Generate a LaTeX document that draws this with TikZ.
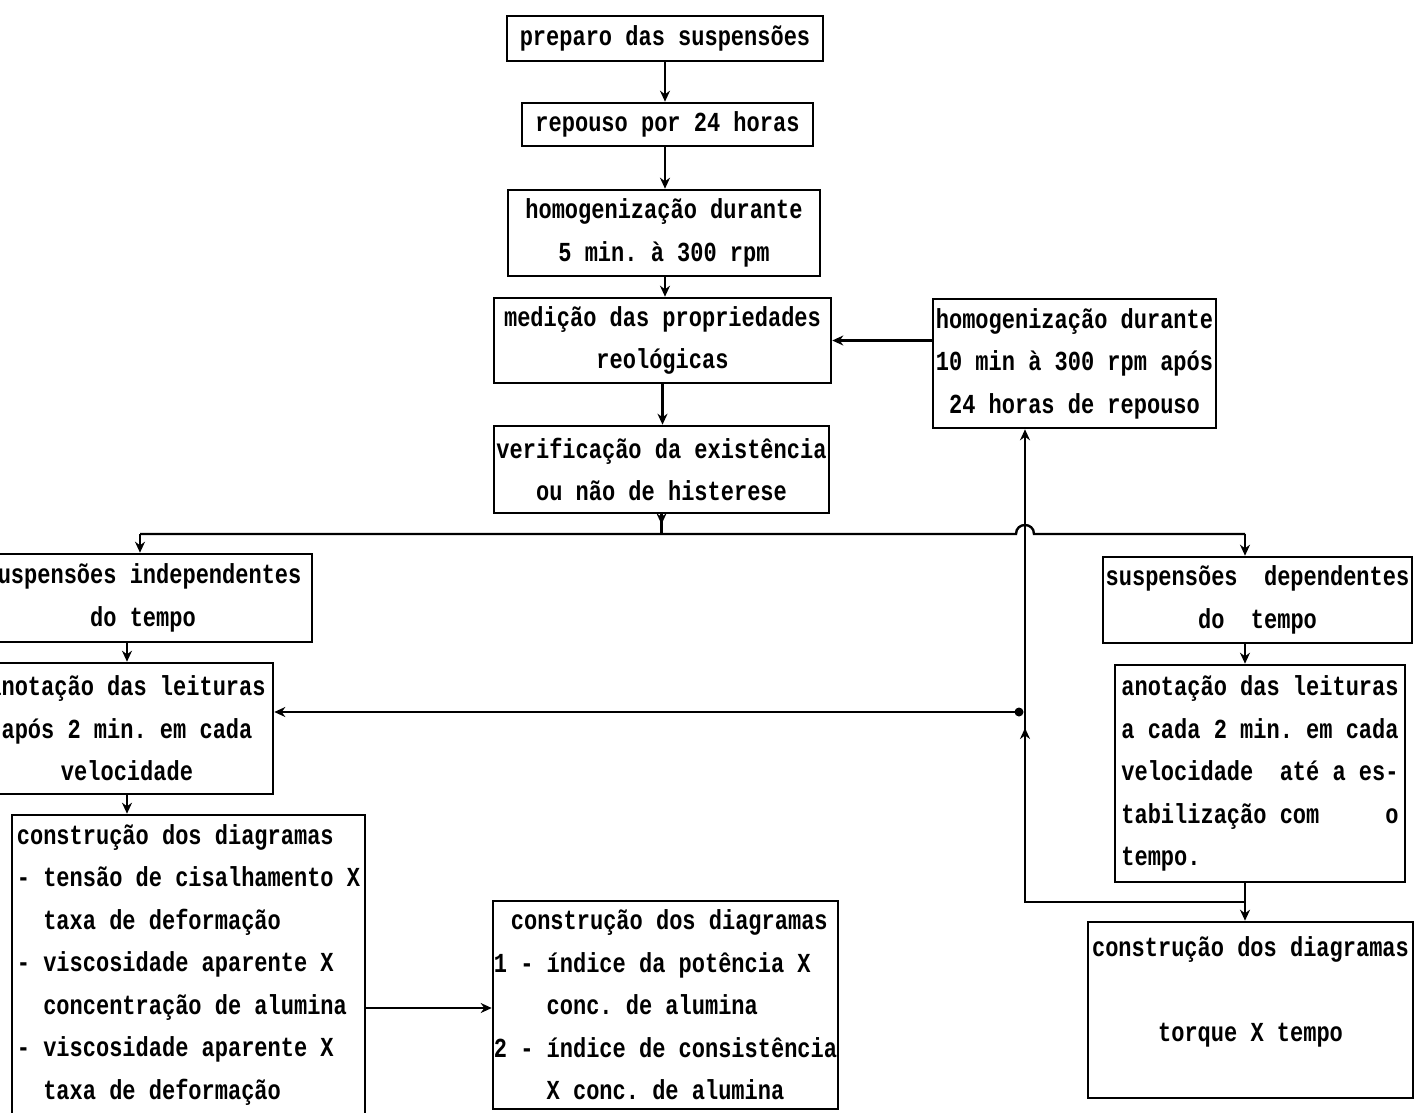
\documentclass[tikz,border=0pt]{standalone}
\usepackage{fontspec}
\newfontfamily\dm{Liberation Mono}[FakeStretch=0.8]
\usetikzlibrary{arrows.meta,calc}
\frenchspacing
\begin{document}
\begin{tikzpicture}[x=1pt,y=-1pt,
  box/.style={draw, line width=2.6pt, inner sep=0pt, align=center,
    font=\dm\bfseries\frenchspacing\fontsize{27.5}{42.5}\selectfont},
  lbox/.style={box, align=left},
  ln/.style={line width=2.4pt},
  arr/.style={line width=2.4pt, -{Stealth[length=11pt,width=10pt]}}]
\useasboundingbox (0,0) rectangle (1415,1112);
\fill[white] (0,0) rectangle (1415,1112);
\clip (0,0) rectangle (1415,1112);

% boxes
\node[box, minimum width=316pt, minimum height=45pt] (b1) at (665,38.5) {preparo das suspensões};
\node[box, minimum width=291pt, minimum height=43pt] (b2) at (667.5,124.5) {repouso por 24 horas};
\node[box, minimum width=312pt, minimum height=86pt] (b3) at (664,233) {homogenização durante\\5 min. à 300 rpm};
\node[box, minimum width=337pt, minimum height=85pt] (b4) at (662.5,340.5) {medição das propriedades\\reológicas};
\node[box, minimum width=335pt, minimum height=87pt] (b5) at (661.5,469.5) {verificação da existência\\ou não de histerese};
\node[box, minimum width=283pt, minimum height=129pt] (b6) at (1074.5,363.5) {homogenização durante\\10 min à 300 rpm após\\24 horas de repouso};
\node[box, minimum width=338pt, minimum height=88pt] (b7) at (143,598) {suspensões independentes\\do tempo};
\node[box, minimum width=292pt, minimum height=131pt] (b8) at (127,728.5) {anotação das leituras\\após 2 min. em cada\\velocidade};
\node[lbox, minimum width=353pt, minimum height=300pt] (b9) at (188.5,965) {construção dos diagramas\\- tensão de cisalhamento X\\\hphantom{00}taxa de deformação\\- viscosidade aparente X\\\hphantom{00}concentração de alumina\\- viscosidade aparente X\\\hphantom{00}taxa de deformação};
\node[lbox, minimum width=345pt, minimum height=208pt] (b10) at (665.5,1005) {\hspace*{17pt}construção dos diagramas\\1 - índice da potência X\\\hphantom{0000}conc. de alumina\\2 - índice de consistência\\\hphantom{0000}X conc. de alumina};
\node[box, minimum width=309pt, minimum height=86pt] (b11) at (1257.5,600) {suspensões\hphantom{0} dependentes\\do\hphantom{0} tempo};
\node[lbox, minimum width=290pt, minimum height=217pt] (b12) at (1260,773.5) {anotação das leituras\\a cada 2 min. em cada\\velocidade\hphantom{0} até a es-\\tabilização com\hphantom{00000}o\\tempo.};
\node[box, minimum width=325pt, minimum height=176pt] (b13) at (1250.5,1010) {construção dos diagramas\\[42.5pt]torque X tempo\\\mbox{}};

% main column
\draw[arr] (b1.south) -- (b1.south |- b2.north);
\draw[arr] (b2.south -| b1.south) -- (b1.south |- b3.north);
\draw[arr] (b3.south -| b1.south) -- (b1.south |- b4.north);
\draw[arr] (b4.south) -- (b4.south |- b5.north);

% bus
\coordinate (busL) at (140,534);
\coordinate (busR) at (1245,534);
\coordinate (hop) at (1025,534);
\draw[ln] (b5.south) -- (b5.south |- busL);
\draw[arr] (b5.south) -- ++(0,10);
\draw[ln] (busL) -- ($(hop)+(-9,0)$) .. controls ($(hop)+(-9,-12)$) and ($(hop)+(9,-12)$) .. ($(hop)+(9,0)$) -- (busR);
\draw[arr] (busL) -- (busL |- b7.north);
\draw[arr] (busR) -- (busR |- b11.north);

% left column
\draw[arr] (b8.north |- b7.south) -- (b8.north);
\draw[arr] (b8.south) -- (b8.south |- b9.north);
\coordinate (m1) at (365,1008);
\draw[arr] (b9.east |- m1) -- (m1 -| b10.west);

% right column
\draw[arr] (busR |- b11.south) -- (busR |- b12.north);
\coordinate (jr) at (1245,902);
\coordinate (jl) at (1025,902);
\draw[arr] (jr |- b12.south) -- (jr |- b13.north);
\draw[arr] (jr) -- (jl) -- (jl |- b6.south);
\coordinate (up1) at (1025,764);
\coordinate (up2) at (1025,728);
\draw[arr] (up1) -- (up2);
\coordinate (jm) at (1019,712);
\fill (jm) circle[radius=4.5pt];
\draw[arr] (jm) -- (jm -| b8.east);

% feedback into measurement
\draw[arr] (b6.west |- b4.east) -- (b4.east);
\end{tikzpicture}
\end{document}
